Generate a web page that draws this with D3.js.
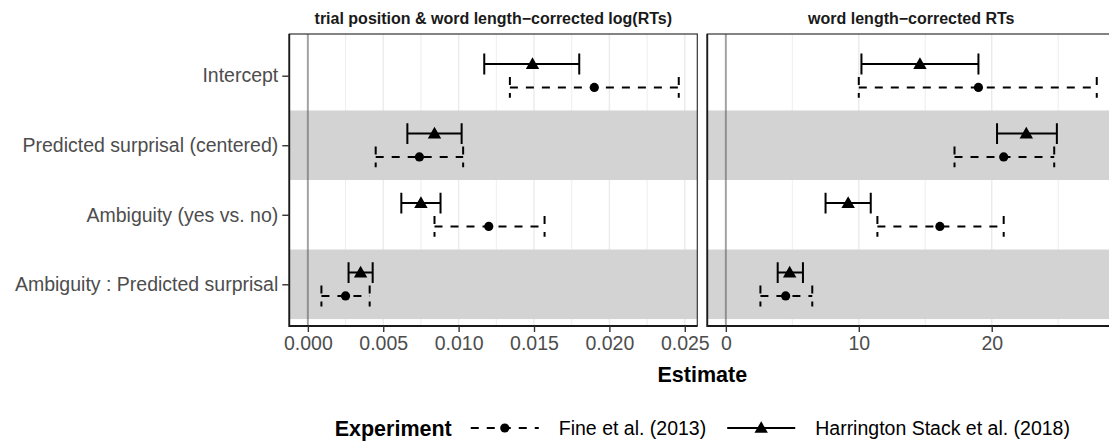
<!DOCTYPE html>
<html>
<head>
<meta charset="utf-8">
<script src="https://cdn.jsdelivr.net/npm/d3@7"></script>
<style>
  html, body { margin: 0; padding: 0; background: #ffffff; }
  svg { display: block; font-family: "Liberation Sans", Arial, Helvetica, sans-serif; }
</style>
</head>
<body>
<svg id="chart" width="1109" height="443"></svg>
<script>
// Model terms, top to bottom
const categories = [
  "Intercept",
  "Predicted surprisal (centered)",
  "Ambiguity (yes vs. no)",
  "Ambiguity : Predicted surprisal"
];
const experiments = ["Fine et al. (2013)", "Harrington Stack et al. (2018)"];
const panelTitles = ["trial position & word length\u2212corrected log(RTs)", "word length\u2212corrected RTs"];

// log(RT) model: estimates and 95% intervals
const logFineEst = [0.0190, 0.0074, 0.0120, 0.0025];
const logFineLo  = [0.0134, 0.0045, 0.0084, 0.0009];
const logFineHi  = [0.0246, 0.0103, 0.0157, 0.0041];
const logHSEst   = [0.0149, 0.0084, 0.0075, 0.0035];
const logHSLo    = [0.0117, 0.0066, 0.0062, 0.0027];
const logHSHi    = [0.0180, 0.0102, 0.0088, 0.0043];

// raw RT model: estimates and 95% intervals
const rtFineEst = [19.0, 20.9, 16.1, 4.5];
const rtFineLo  = [10.0, 17.2, 11.4, 2.6];
const rtFineHi  = [27.9, 24.7, 20.9, 6.5];
const rtHSEst   = [14.6, 22.6, 9.2, 4.8];
const rtHSLo    = [10.2, 20.4, 7.5, 3.9];
const rtHSHi    = [19.0, 24.9, 10.9, 5.8];

const tickFormats = [d3.format(".3f"), d3.format("d")];

function rows(est, lo, hi, exp) {
  return categories.map((c, i) => ({ term: c, est: est[i], lo: lo[i], hi: hi[i], exp }));
}
const panelData = [
  rows(logFineEst, logFineLo, logFineHi, experiments[0]).concat(rows(logHSEst, logHSLo, logHSHi, experiments[1])),
  rows(rtFineEst, rtFineLo, rtFineHi, experiments[0]).concat(rows(rtHSEst, rtHSLo, rtHSHi, experiments[1]))
];

const svg = d3.select("#chart");
const plotTop = 34, plotBottom = 326;
const panelX = [[289.3, 697.3], [707.3, 1115.3]];

const y = d3.scalePoint().domain(categories).range([plotTop, plotBottom]).padding(0.6);
const step = y.step();
const dodge = step * 0.168;
const capHalf = step * 0.15;

const textGrey = "#4d4d4d";
const triangle = d3.symbol().type(d3.symbolTriangle).size(78);

function drawMarks(g, data, x) {
  const yOf = d => y(d.term) + (d.exp === experiments[0] ? dodge : -dodge);
  g.selectAll("path.bar").data(data).join("path")
    .attr("class", "bar")
    .attr("fill", "none")
    .attr("stroke", "#000")
    .attr("stroke-width", 2)
    .attr("stroke-dasharray", d => d.exp === experiments[0] ? "8,8" : null)
    .attr("d", d => {
      const yy = yOf(d), a = x(d.lo), b = x(d.hi);
      return `M${a},${yy - capHalf}L${a},${yy + capHalf}M${a},${yy}L${b},${yy}M${b},${yy - capHalf}L${b},${yy + capHalf}`;
    });
  g.selectAll("circle.pt").data(data.filter(d => d.exp === experiments[0])).join("circle")
    .attr("class", "pt")
    .attr("cx", d => x(d.est)).attr("cy", yOf).attr("r", 4.6).attr("fill", "#000");
  g.selectAll("path.tri").data(data.filter(d => d.exp === experiments[1])).join("path")
    .attr("class", "tri")
    .attr("d", triangle)
    .attr("transform", d => `translate(${x(d.est)},${yOf(d) + 1})`)
    .attr("fill", "#000");
}

panelData.forEach((data, p) => {
  const [x0, x1] = panelX[p];
  const lo = Math.min(0, d3.min(data, d => d.lo));
  const hi = Math.max(0, d3.max(data, d => d.hi));
  const pad = (hi - lo) * 0.05;
  const x = d3.scaleLinear().domain([lo - pad, hi + pad]).range([x0, x1]);

  const g = svg.append("g");

  // grid
  const major = x.ticks(p === 0 ? 6 : 3);
  const majorStep = major[1] - major[0];
  const minor = d3.range(major[0] - majorStep / 2, hi + pad + majorStep, majorStep)
    .filter(v => v >= lo - pad && v <= hi + pad);
  g.selectAll("line.minor").data(minor).join("line")
    .attr("x1", d => x(d)).attr("x2", d => x(d)).attr("y1", plotTop).attr("y2", plotBottom)
    .attr("stroke", "#ebebeb").attr("stroke-width", 0.9);
  g.selectAll("line.major").data(major).join("line")
    .attr("x1", d => x(d)).attr("x2", d => x(d)).attr("y1", plotTop).attr("y2", plotBottom)
    .attr("stroke", "#ebebeb").attr("stroke-width", 1.4);

  // alternating row shading
  g.selectAll("rect.band").data(categories.filter((c, i) => i % 2 === 1)).join("rect")
    .attr("x", x0).attr("width", x1 - x0)
    .attr("y", d => y(d) - step / 2).attr("height", step)
    .attr("fill", "#d3d3d3");

  // zero reference
  g.append("line")
    .attr("x1", x(0)).attr("x2", x(0)).attr("y1", plotTop).attr("y2", plotBottom)
    .attr("stroke", "#000").attr("stroke-opacity", 0.32).attr("stroke-width", 2);

  drawMarks(g, data, x);

  // panel frame
  g.append("rect").attr("x", x0).attr("y", plotTop).attr("width", x1 - x0).attr("height", plotBottom - plotTop)
    .attr("fill", "none").attr("stroke", "#333").attr("stroke-width", 1.2);
  g.append("path").attr("d", `M${x0},${plotTop}L${x0},${plotBottom}L${x1},${plotBottom}`)
    .attr("fill", "none").attr("stroke", "#1a1a1a").attr("stroke-width", 1.8);

  // x axis
  const ax = g.append("g").attr("transform", `translate(0,${plotBottom})`)
    .call(d3.axisBottom(x).tickValues(major).tickFormat(tickFormats[p]).tickSize(6).tickPadding(4));
  ax.select(".domain").remove();
  ax.selectAll(".tick line").attr("stroke", "#333").attr("stroke-width", 1.4);
  ax.selectAll(".tick text").attr("fill", textGrey).attr("font-size", 19.5)
    .attr("font-family", "'Liberation Sans', Arial, Helvetica, sans-serif");

  // facet title
  svg.append("text").attr("x", (x0 + x1) / 2).attr("y", 23.5)
    .attr("text-anchor", "middle").attr("font-weight", "bold").attr("font-size", 16)
    .attr("fill", "#1a1a1a").text(panelTitles[p]);

  // y axis on the first panel
  if (p === 0) {
    const ay = svg.append("g").attr("transform", `translate(${x0},0)`)
      .call(d3.axisLeft(y).tickSize(7).tickPadding(4));
    ay.select(".domain").remove();
    ay.selectAll(".tick line").attr("stroke", "#333").attr("stroke-width", 1.4);
    ay.selectAll(".tick text").attr("fill", textGrey).attr("font-size", 19.5)
      .attr("font-family", "'Liberation Sans', Arial, Helvetica, sans-serif");
  }
});

// axis title
svg.append("text").attr("x", (panelX[0][0] + panelX[1][1]) / 2).attr("y", 381.5)
  .attr("text-anchor", "middle").attr("font-weight", "bold").attr("font-size", 21.5)
  .attr("fill", "#000").text("Estimate");

// legend
const legY = 428;
const leg = svg.append("g");
const keyW = 68;
let cx = 0;
const legTitle = leg.append("text").attr("x", cx).attr("y", legY).attr("dy", "0.35em")
  .attr("font-weight", "bold").attr("font-size", 21.5).attr("fill", "#000").text("Experiment");
cx += legTitle.node().getComputedTextLength() + 19;
experiments.forEach((e, i) => {
  const kg = leg.append("g");
  kg.append("line").attr("x1", cx).attr("x2", cx + keyW).attr("y1", legY).attr("y2", legY)
    .attr("stroke", "#000").attr("stroke-width", 2)
    .attr("stroke-dasharray", i === 0 ? "8,8" : null);
  if (i === 0) {
    kg.append("circle").attr("cx", cx + keyW / 2).attr("cy", legY).attr("r", 4.6).attr("fill", "#000");
  } else {
    kg.append("path").attr("d", triangle).attr("transform", `translate(${cx + keyW / 2},${legY + 1})`).attr("fill", "#000");
  }
  cx += keyW + 20;
  const t = leg.append("text").attr("x", cx).attr("y", legY).attr("dy", "0.35em")
    .attr("font-size", 19.5).attr("fill", "#000").text(e);
  cx += t.node().getComputedTextLength() + 21;
});
const legW = cx - 21;
leg.attr("transform", `translate(${(panelX[0][0] + panelX[1][1]) / 2 - legW / 2},0)`);
</script>
</body>
</html>
